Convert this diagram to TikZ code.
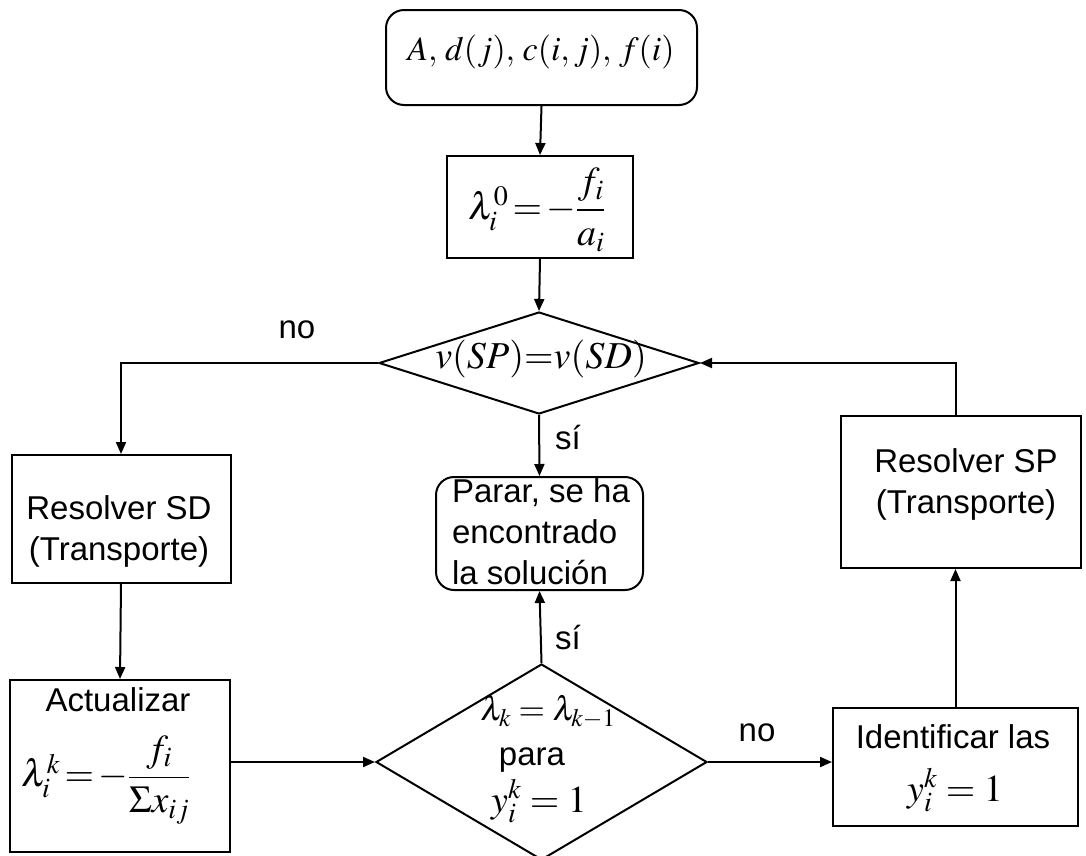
\documentclass[tikz,border=0pt]{standalone}
\usepackage{amsmath}
\usepackage{mathptmx}
\usepackage{fontspec}
\setmainfont{Liberation Sans}
\usetikzlibrary{shapes.geometric,arrows.meta}

% struts that open up the fractions
\newcommand{\numup}{\rule[-9pt]{0pt}{9pt}}
\newcommand{\dendown}{\rule{0pt}{30pt}}

\begin{document}
\begin{tikzpicture}[x=1pt,y=-1pt,
  box/.style={draw, line width=2pt, rectangle, inner sep=0pt},
  rbox/.style={box, rounded corners=18pt},
  decision/.style={draw, line width=2pt, diamond, inner sep=0pt},
  flow/.style={line width=2pt, -{Triangle[length=12pt,width=10pt]}},
  txt/.style={font=\fontsize{33}{41}\selectfont, inner sep=0pt},
  mth/.style={font=\fontsize{34}{40}\selectfont, inner sep=0pt},
  bigmth/.style={font=\fontsize{38}{44}\selectfont, inner sep=0pt}
]
\useasboundingbox (0,0) rectangle (1086,855);
\clip (0,0) rectangle (1086,855);
\fill[white] (0,0) rectangle (1086,855);

% shapes
\node[rbox, minimum width=311pt, minimum height=95pt] (top) at (541.5,57.5) {};
\node[box, minimum width=186pt, minimum height=102pt] (lam) at (540,207) {};
\node[decision, minimum width=320pt, minimum height=102pt] (d1) at (539,363) {};
\node[box, minimum width=219pt, minimum height=128pt] (sd) at (121,519) {};
\node[rbox, minimum width=207pt, minimum height=113pt] (stop) at (539.5,533.5) {};
\node[box, minimum width=240pt, minimum height=152pt] (sp) at (961,492) {};
\node[box, minimum width=220pt, minimum height=172pt] (act) at (120,766) {};
\node[decision, minimum width=331pt, minimum height=196pt] (d2) at (541.5,762) {};
\node[box, minimum width=245pt, minimum height=118pt] (idf) at (955.5,767) {};

% texts
\node[mth] (ttop) at (541,52) {$A,\, d(j),\, c(i,j),\, f(i)$};
\node[bigmth] (tlam) at (537,210) {$\lambda_i^0 \,{=}\, {-}\dfrac{\numup f_i}{\dendown a_i}$};
\node[bigmth] (td1) at (541,359) {$v(SP){=}v(SD)$};
\node[txt, align=center] (tsd) at (119,531) {Resolver SD\\(Transporte)};
\node[txt, align=center] (tsp) at (966,484) {Resolver SP\\(Transporte)};
\node[txt, align=left, font=\fontsize{33}{41}\selectfont] (tstop) at (541,532) {Parar, se ha\\encontrado\\la solución};
\node[txt] (tact) at (118,700) {Actualizar};
\node[bigmth] (tactf) at (106,780) {$\lambda_i^k \,{=}\, {-}\dfrac{\numup f_i}{\dendown \Sigma x_{ij}}$};
\node[mth] (td2a) at (548,712) {$\lambda_k = \lambda_{k-1}$};
\node[txt] (td2b) at (532,760) {para};
\node[bigmth] (td2c) at (539,801) {$y_i^k = 1$};
\node[txt] (tidf) at (953,737) {Identificar las};
\node[bigmth] (tidfy) at (955,790) {$y_i^k = 1$};

% connector labels
\node[txt] (lno1) at (297,330) {no};
\node[txt] (lsi1) at (568,438) {sí};
\node[txt] (lsi2) at (568,637) {sí};
\node[txt] (lno2) at (757,733) {no};

% connectors
\draw[flow] (top.south) -- (lam.north);
\draw[flow] (lam.south) -- (d1.north);
\draw[flow] (d1.west) -| (sd.north);
\draw[flow] (d1.south) -- (stop.north);
\draw[flow] (sd.south) -- (act.north);
\draw[flow] (d2.west -| act.east) -- (d2.west);
\draw[flow] (d2.north) -- (stop.south);
\draw[flow] (d2.east) -- (d2.east -| idf.west);
\draw[flow] (idf.north) -- (idf.north |- sp.south);
\draw[flow] (idf.north |- sp.north) |- (d1.east);
\end{tikzpicture}
\end{document}
